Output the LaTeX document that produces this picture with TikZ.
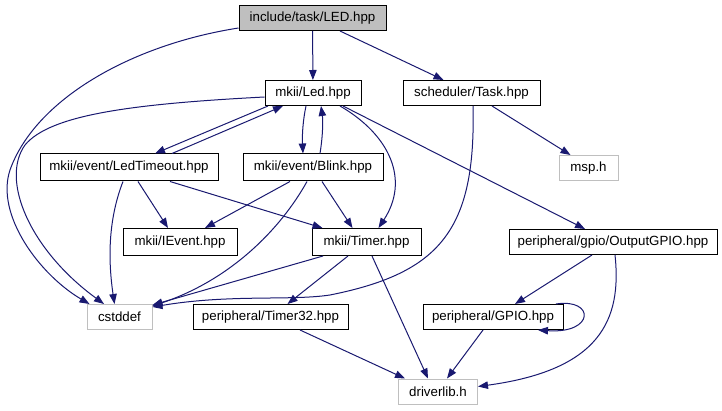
\documentclass[tikz,border=0pt]{standalone}
\usepackage{fontspec}
\setmainfont{Liberation Sans}
\usetikzlibrary{arrows.meta}
\definecolor{edgeblue}{RGB}{25,25,112}
\definecolor{lightborder}{RGB}{191,191,191}
\definecolor{rootfill}{RGB}{191,191,191}
\begin{document}
\begin{tikzpicture}[x=1pt,y=-1pt,
  filebox/.style={draw=black,line width=1pt,rectangle,inner sep=0pt,minimum height=26pt,
    font=\fontsize{13.3}{16}\selectfont,anchor=center},
  extbox/.style={filebox,draw=lightborder},
  rootbox/.style={filebox,fill=rootfill},
  edge/.style={draw=edgeblue,line width=1pt,-{Triangle[length=10pt,width=7.5pt]}}]
\useasboundingbox (0,0) rectangle (722,411);

\node[rootbox,minimum width=147pt,minimum height=25pt] (LED) at (312.5,18) {include/task/LED.hpp};
\node[filebox,minimum width=96pt,minimum height=25pt] (Led) at (313,93) {mkii/Led.hpp};
\node[filebox,minimum width=137pt,minimum height=25pt] (Task) at (471.5,93) {scheduler/Task.hpp};
\node[extbox,minimum width=59pt,minimum height=25pt] (msp) at (588.5,168) {msp.h};
\node[filebox,minimum width=178pt,minimum height=27pt] (LedTimeout) at (129,167.5) {mkii/event/LedTimeout.hpp};
\node[filebox,minimum width=140pt,minimum height=27pt] (Blink) at (313,167.5) {mkii/event/Blink.hpp};
\node[filebox,minimum width=114pt,minimum height=27pt] (IEvent) at (180,242) {mkii/IEvent.hpp};
\node[filebox,minimum width=109pt,minimum height=27pt] (Timer) at (366.5,242) {mkii/Timer.hpp};
\node[filebox,minimum width=208pt,minimum height=25pt] (OutputGPIO) at (613,242) {peripheral/gpio/OutputGPIO.hpp};
\node[extbox,minimum width=65pt,minimum height=25pt] (cstddef) at (119.5,317) {cstddef};
\node[filebox,minimum width=155pt,minimum height=25pt] (Timer32) at (270.5,317) {peripheral/Timer32.hpp};
\node[filebox,minimum width=140pt,minimum height=25pt] (GPIO) at (493,317) {peripheral/GPIO.hpp};
\node[extbox,minimum width=79pt,minimum height=25pt] (driverlib) at (438,391.5) {driverlib.h};

% include/task/LED.hpp
\draw[edge] (LED) -- (Led);
\draw[edge] ([xshift=27.5pt]LED.south) -- ([xshift=-28pt]Task.north);
\draw[edge] ([yshift=-10pt]LED.west) .. controls (130,45) and (35,100) .. (10,170)
  .. controls (-5,215) and (40,275) .. ([xshift=-30pt]cstddef.north);

% mkii/Led.hpp
\draw[edge] ([yshift=-4pt]Led.west) .. controls (130,104) and (50,115) .. (25,145)
  .. controls (0,180) and (30,250) .. ([xshift=-15.5pt]cstddef.north);
\draw[edge] ([xshift=-45pt]Led.south) -- ([xshift=26pt]LedTimeout.north);
\draw[edge] ([xshift=43pt]LedTimeout.north) -- ([xshift=-30pt]Led.south);
\draw[edge] ([xshift=-7pt]Led.south) .. controls (303,120) and (302,135) .. ([xshift=-10pt]Blink.north);
\draw[edge] ([xshift=7pt]Blink.north) .. controls (323,135) and (323,120) .. ([xshift=8pt]Led.south);
\draw[edge] ([xshift=27pt]Led.south) .. controls (390,135) and (410,180) .. ([xshift=12pt]Timer.north);
\draw[edge] ([xshift=30pt]Led.south) -- ([xshift=-28pt]OutputGPIO.north);

% scheduler/Task.hpp
\draw[edge] ([xshift=1.5pt]Task.south) .. controls (476,230) and (440,273) .. (330,295)
  .. controls (290,301) and (230,294) .. ([yshift=10pt]cstddef.east);
\draw[edge] ([xshift=20.5pt]Task.south) -- ([xshift=-18pt]msp.north);

% mkii/event/LedTimeout.hpp
\draw[edge] ([xshift=9pt]LedTimeout.south) -- ([xshift=-12pt]IEvent.north);
\draw[edge] ([xshift=41pt]LedTimeout.south) -- ([xshift=-44pt]Timer.north);
\draw[edge] ([xshift=-6pt]LedTimeout.south) .. controls (108,220) and (108,260) .. ([xshift=-5pt]cstddef.north);

% mkii/event/Blink.hpp
\draw[edge] ([xshift=-23pt]Blink.south) -- ([xshift=25pt]IEvent.north);
\draw[edge] ([xshift=9pt]Blink.south) -- ([xshift=-14pt]Timer.north);
\draw[edge] ([xshift=-6pt]Blink.south) .. controls (280,230) and (230,280) .. ([yshift=11pt]cstddef.east);

% mkii/Timer.hpp
\draw[edge] ([xshift=-43.5pt]Timer.south) -- ([yshift=12pt]cstddef.east);
\draw[edge] ([xshift=-18.5pt]Timer.south) -- ([xshift=17pt]Timer32.north);
\draw[edge] ([xshift=5.5pt]Timer.south) -- ([xshift=-10pt]driverlib.north);

% peripheral/Timer32.hpp
\draw[edge] ([xshift=29.5pt]Timer32.south) -- ([xshift=-33pt]driverlib.north);

% peripheral/gpio/OutputGPIO.hpp
\draw[edge] ([xshift=-21pt]OutputGPIO.south) -- ([xshift=22pt]GPIO.north);
\draw[edge] ([xshift=2pt]OutputGPIO.south) .. controls (622,320) and (600,370) .. ([yshift=5pt]driverlib.east);

% peripheral/GPIO.hpp
\draw[edge] ([xshift=63pt]GPIO.north) .. controls (595,298) and (595,334) .. ([xshift=45pt]GPIO.south);
\draw[edge] ([xshift=-10pt]GPIO.south) -- ([xshift=9pt]driverlib.north);
\end{tikzpicture}
\end{document}
